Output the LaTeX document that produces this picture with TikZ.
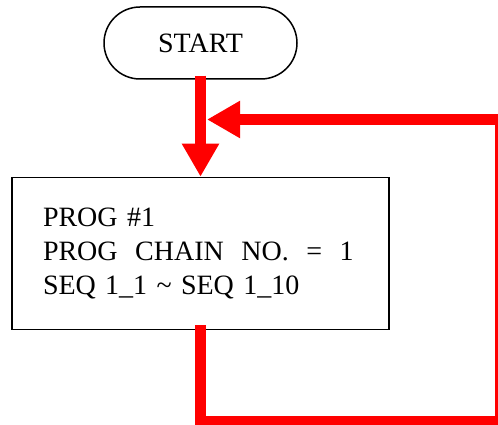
\documentclass[tikz,border=0pt]{standalone}
\usepackage{fontspec}
\setmainfont{Liberation Serif}
\usepackage{tikz}
\usetikzlibrary{arrows.meta,positioning}

\newcommand{\gap}{\hspace{17.5pt}}

\begin{document}
\begin{tikzpicture}[
    x=1pt, y=-1pt,
    node distance=97pt,
    every node/.style={font=\fontsize{28}{34.3}\selectfont},
    terminal/.style={draw=black, line width=1.5pt, rounded corners=36pt,
      minimum width=193pt, minimum height=72pt, inner sep=0pt},
    procbox/.style={draw=black, line width=1.5pt, align=left,
      text width=315pt, inner xsep=31pt, minimum height=152pt},
    flow/.style={-{Triangle[length=33pt, width=35pt]}, line width=10.5pt,
      draw=red}
  ]
    \useasboundingbox (0,0) rectangle (498,425);
    \node[terminal] (start) at (200.5,43) {START};
    \node[procbox, below=of start] (prog) {PROG \#1\\PROG\gap CHAIN\gap NO.\gap=\gap 1\\SEQ 1\_1 \textasciitilde{} SEQ 1\_10};
    \coordinate (merge) at (207,119.5);
    \coordinate (turn) at (500,421);
    \draw[flow, shorten <=-4pt] (start.south) -- (prog.north);
    \draw[flow] ([yshift=5pt]prog.south) |- (turn) |- (merge);
  \end{tikzpicture}
\end{document}
